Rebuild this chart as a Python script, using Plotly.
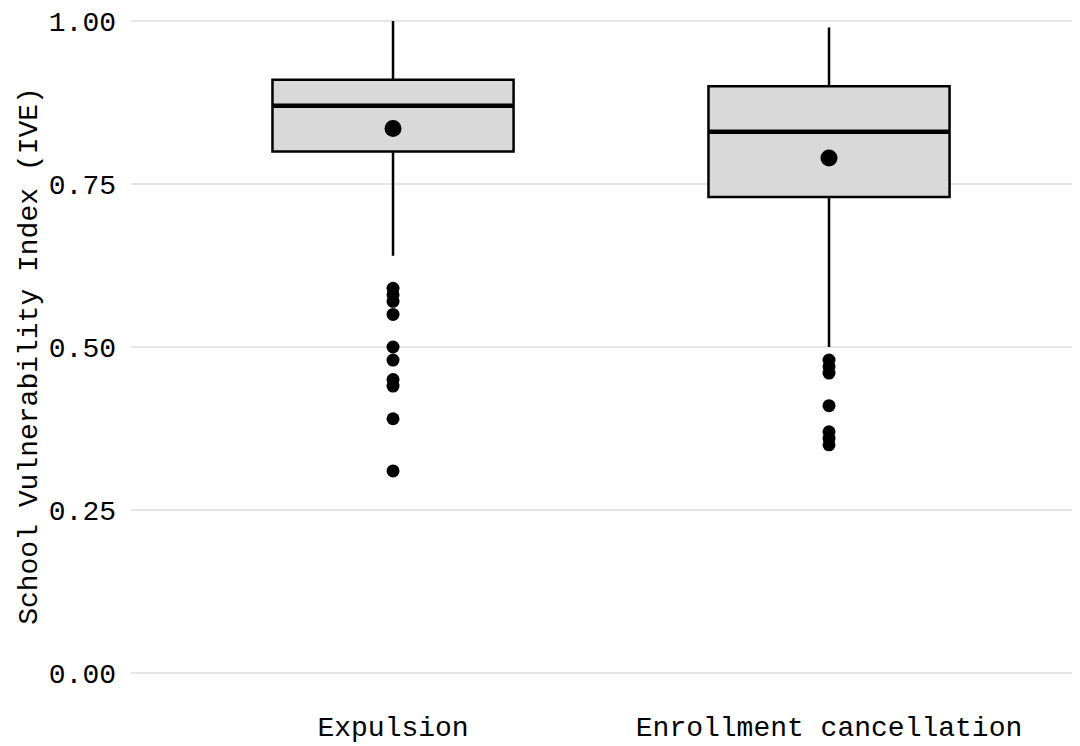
import plotly.graph_objects as go

categories = ["Expulsion", "Enrollment cancellation"]
lower_whisker = [0.64, 0.50]
q1 = [0.80, 0.73]
median = [0.87, 0.83]
q3 = [0.91, 0.90]
upper_whisker = [1.00, 0.99]
means = [0.835, 0.79]
outliers = [
    [0.59, 0.58, 0.57, 0.55, 0.50, 0.48, 0.45, 0.44, 0.39, 0.31],
    [0.48, 0.47, 0.46, 0.41, 0.37, 0.36, 0.35],
]
y_ticks = [0.00, 0.25, 0.50, 0.75, 1.00]

BOX_W = 0.553
FONT = "Liberation Mono, Cousine, DejaVu Sans Mono, monospace"

fig = go.Figure()
xs = list(range(len(categories)))
fig.add_trace(go.Box(
    x=xs, q1=q1, median=median, q3=q3,
    lowerfence=lower_whisker, upperfence=upper_whisker,
    width=BOX_W, whiskerwidth=0,
    fillcolor="#D9D9D9", line=dict(color="black", width=2.5),
    boxpoints=False, showlegend=False, hoverinfo="skip",
))
for i, m in enumerate(median):
    fig.add_trace(go.Scatter(
        x=[i - BOX_W / 2, i + BOX_W / 2], y=[m, m], mode="lines",
        line=dict(color="black", width=4.5), showlegend=False, hoverinfo="skip",
    ))
for i, outs in enumerate(outliers):
    fig.add_trace(go.Scatter(
        x=[i] * len(outs), y=outs, mode="markers",
        marker=dict(color="black", size=13), showlegend=False,
    ))
fig.add_trace(go.Scatter(
    x=xs, y=means, mode="markers",
    marker=dict(color="black", size=17), showlegend=False,
))

fig.update_layout(
    width=1080, height=746,
    margin=dict(l=123, r=0, t=0, b=50),
    paper_bgcolor="white", plot_bgcolor="white",
    font=dict(family=FONT, size=28, color="black"),
    xaxis=dict(
        range=[-0.601, 1.594], tickvals=xs, ticktext=categories,
        showgrid=False, zeroline=False, showline=False, ticks="",
        tickfont=dict(family=FONT, size=28, color="black"),
        ticklabelstandoff=3, ticklabeloverflow="allow",
    ),
    yaxis=dict(
        range=[-0.0475, 1.0199], tickvals=y_ticks,
        ticktext=[f"{v:.2f}" for v in y_ticks],
        showgrid=True, gridcolor="#E5E5E5", gridwidth=1.5,
        zeroline=False, showline=False, ticks="",
        tickfont=dict(family=FONT, size=28, color="black"),
        ticklabelstandoff=14, ticklabeloverflow="allow",
        title=dict(text="School Vulnerability Index (IVE)", standoff=2,
                   font=dict(family=FONT, size=28, color="black")),
    ),
)

fig.write_html("out.html")
